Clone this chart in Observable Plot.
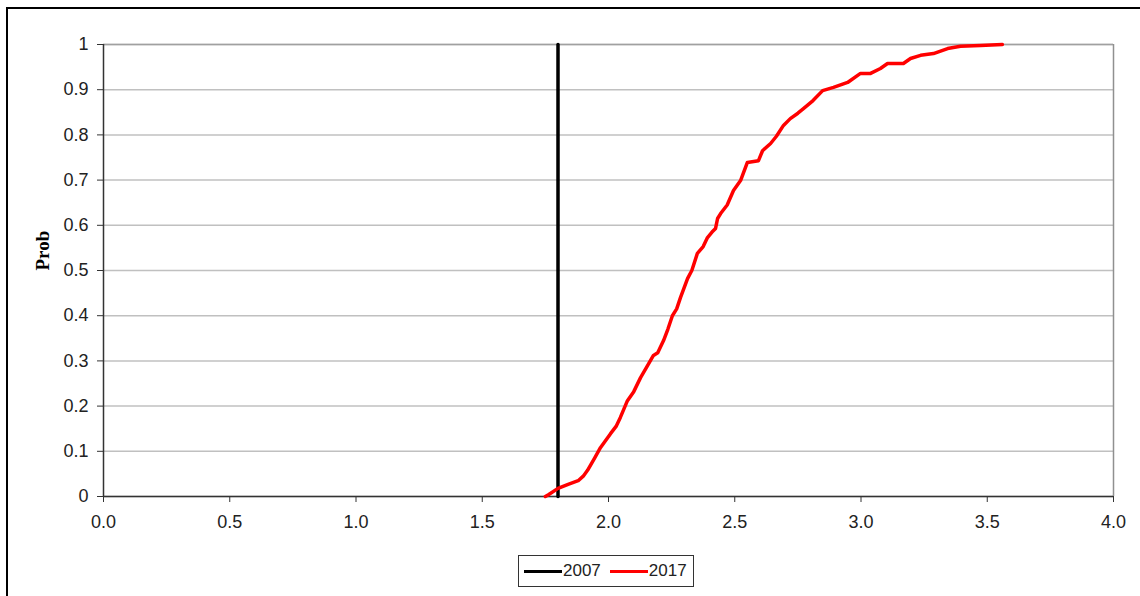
<!DOCTYPE html>
<html>
<head>
<meta charset="utf-8">
<script src="https://cdn.jsdelivr.net/npm/d3@7"></script>
<script src="https://cdn.jsdelivr.net/npm/@observablehq/plot@0.6"></script>
<style>
  html, body { margin: 0; padding: 0; background: #fff; }
  #wrap { position: relative; width: 1140px; height: 596px; overflow: hidden; background: #fff; }
  #frame { position: absolute; left: 6px; top: 7px; width: 1200px; height: 700px; border-left: 2px solid #000; border-top: 2px solid #000; }
  #chart { position: absolute; left: 0; top: 0; }
  #legend { position: absolute; left: 518px; top: 555px; width: 174px; height: 30px; border: 1px solid #333; box-sizing: content-box;
    font-family: "Liberation Sans", Arial, sans-serif; font-size: 17px; color: #222; display: flex; align-items: center; }
  .sw { display: inline-block; width: 38px; height: 3px; margin-left: 5px; }
  .lab { margin-left: 1px; }
</style>
</head>
<body>
<div id="wrap">
  <div id="frame"></div>
  <div id="chart"></div>
  <div id="legend"></div>
</div>
<script>
// Series 2007: single value (vertical CDF step)
const x2007 = [1.8, 1.8];
const p2007 = [0, 1];

const x2017 = [1.75, 1.762, 1.80, 1.84, 1.88, 1.90, 1.917, 1.945, 1.968, 2.008, 2.030, 2.047, 2.075, 2.10, 2.127, 2.15, 2.178, 2.195, 2.218, 2.235, 2.253, 2.27, 2.285, 2.313, 2.33, 2.352, 2.375, 2.392, 2.41, 2.424, 2.432, 2.444, 2.47, 2.495, 2.523, 2.55, 2.594, 2.61, 2.642, 2.665, 2.693, 2.72, 2.75, 2.772, 2.81, 2.848, 2.891, 2.947, 2.998, 3.038, 3.077, 3.105, 3.168, 3.196, 3.236, 3.287, 3.343, 3.394, 3.473, 3.56];
const p2017 = [0.0, 0.004, 0.018, 0.027, 0.035, 0.045, 0.058, 0.085, 0.108, 0.139, 0.155, 0.175, 0.212, 0.232, 0.263, 0.285, 0.312, 0.318, 0.345, 0.37, 0.40, 0.415, 0.44, 0.482, 0.50, 0.538, 0.553, 0.573, 0.585, 0.593, 0.615, 0.626, 0.645, 0.677, 0.699, 0.739, 0.743, 0.765, 0.781, 0.797, 0.821, 0.836, 0.848, 0.858, 0.876, 0.898, 0.905, 0.916, 0.936, 0.936, 0.947, 0.958, 0.958, 0.969, 0.976, 0.980, 0.991, 0.996, 0.998, 1.0];

const xTicks = [0, 0.5, 1, 1.5, 2, 2.5, 3, 3.5, 4];
const yTicks = [0, 0.1, 0.2, 0.3, 0.4, 0.5, 0.6, 0.7, 0.8, 0.9, 1];
const seriesNames = ["2007", "2017"];
const seriesColors = ["#000000", "#ff0000"];
const yLabel = "Prob";

const d2007 = x2007.map((x, i) => ({x, p: p2007[i]}));
const d2017 = x2017.map((x, i) => ({x, p: p2017[i]}));

const font = "Liberation Sans, Arial, sans-serif";

const chart = Plot.plot({
  width: 1140,
  height: 540,
  marginTop: 44,
  marginBottom: 44,
  marginLeft: 103,
  marginRight: 27,
  style: { fontFamily: font, fontSize: "18px", color: "#222", background: "transparent" },
  x: { domain: [0, 4] },
  y: { domain: [0, 1] },
  marks: [
    Plot.gridY(yTicks, { stroke: "#c0c0c0", strokeOpacity: 1, strokeWidth: 1.5 }),
    Plot.ruleY([1], { stroke: "#a0a0a0", strokeWidth: 1.5 }),
    Plot.ruleX([4], { stroke: "#909090", strokeWidth: 1.5 }),
    Plot.axisY({ ticks: yTicks, tickFormat: d3.format("~g"), tickSize: 6, tickPadding: 9, label: null, stroke: "#333" }),
    Plot.axisX({ ticks: xTicks, tickFormat: d3.format(".1f"), tickSize: 6, tickPadding: 13, label: null, stroke: "#333" }),
    Plot.ruleX([0], { stroke: "#333", strokeWidth: 1.5 }),
    Plot.ruleY([0], { stroke: "#333", strokeWidth: 1.5 }),
    Plot.line(d2007, { x: "x", y: "p", stroke: seriesColors[0], strokeWidth: 3.5 }),
    Plot.line(d2017, { x: "x", y: "p", stroke: seriesColors[1], strokeWidth: 3.5 }),
    Plot.text([yLabel], { frameAnchor: "left", dx: -61, rotate: -90, fontFamily: "Liberation Serif, Times New Roman, serif", fontWeight: "bold", fontSize: 19, fill: "#000" })
  ]
});
document.getElementById("chart").appendChild(chart);

const legend = document.getElementById("legend");
seriesNames.forEach((name, i) => {
  const sw = document.createElement("span");
  sw.className = "sw";
  sw.style.background = seriesColors[i];
  if (i > 0) sw.style.marginLeft = "9px";
  const lab = document.createElement("span");
  lab.className = "lab";
  lab.textContent = name;
  legend.appendChild(sw);
  legend.appendChild(lab);
});
</script>
</body>
</html>
